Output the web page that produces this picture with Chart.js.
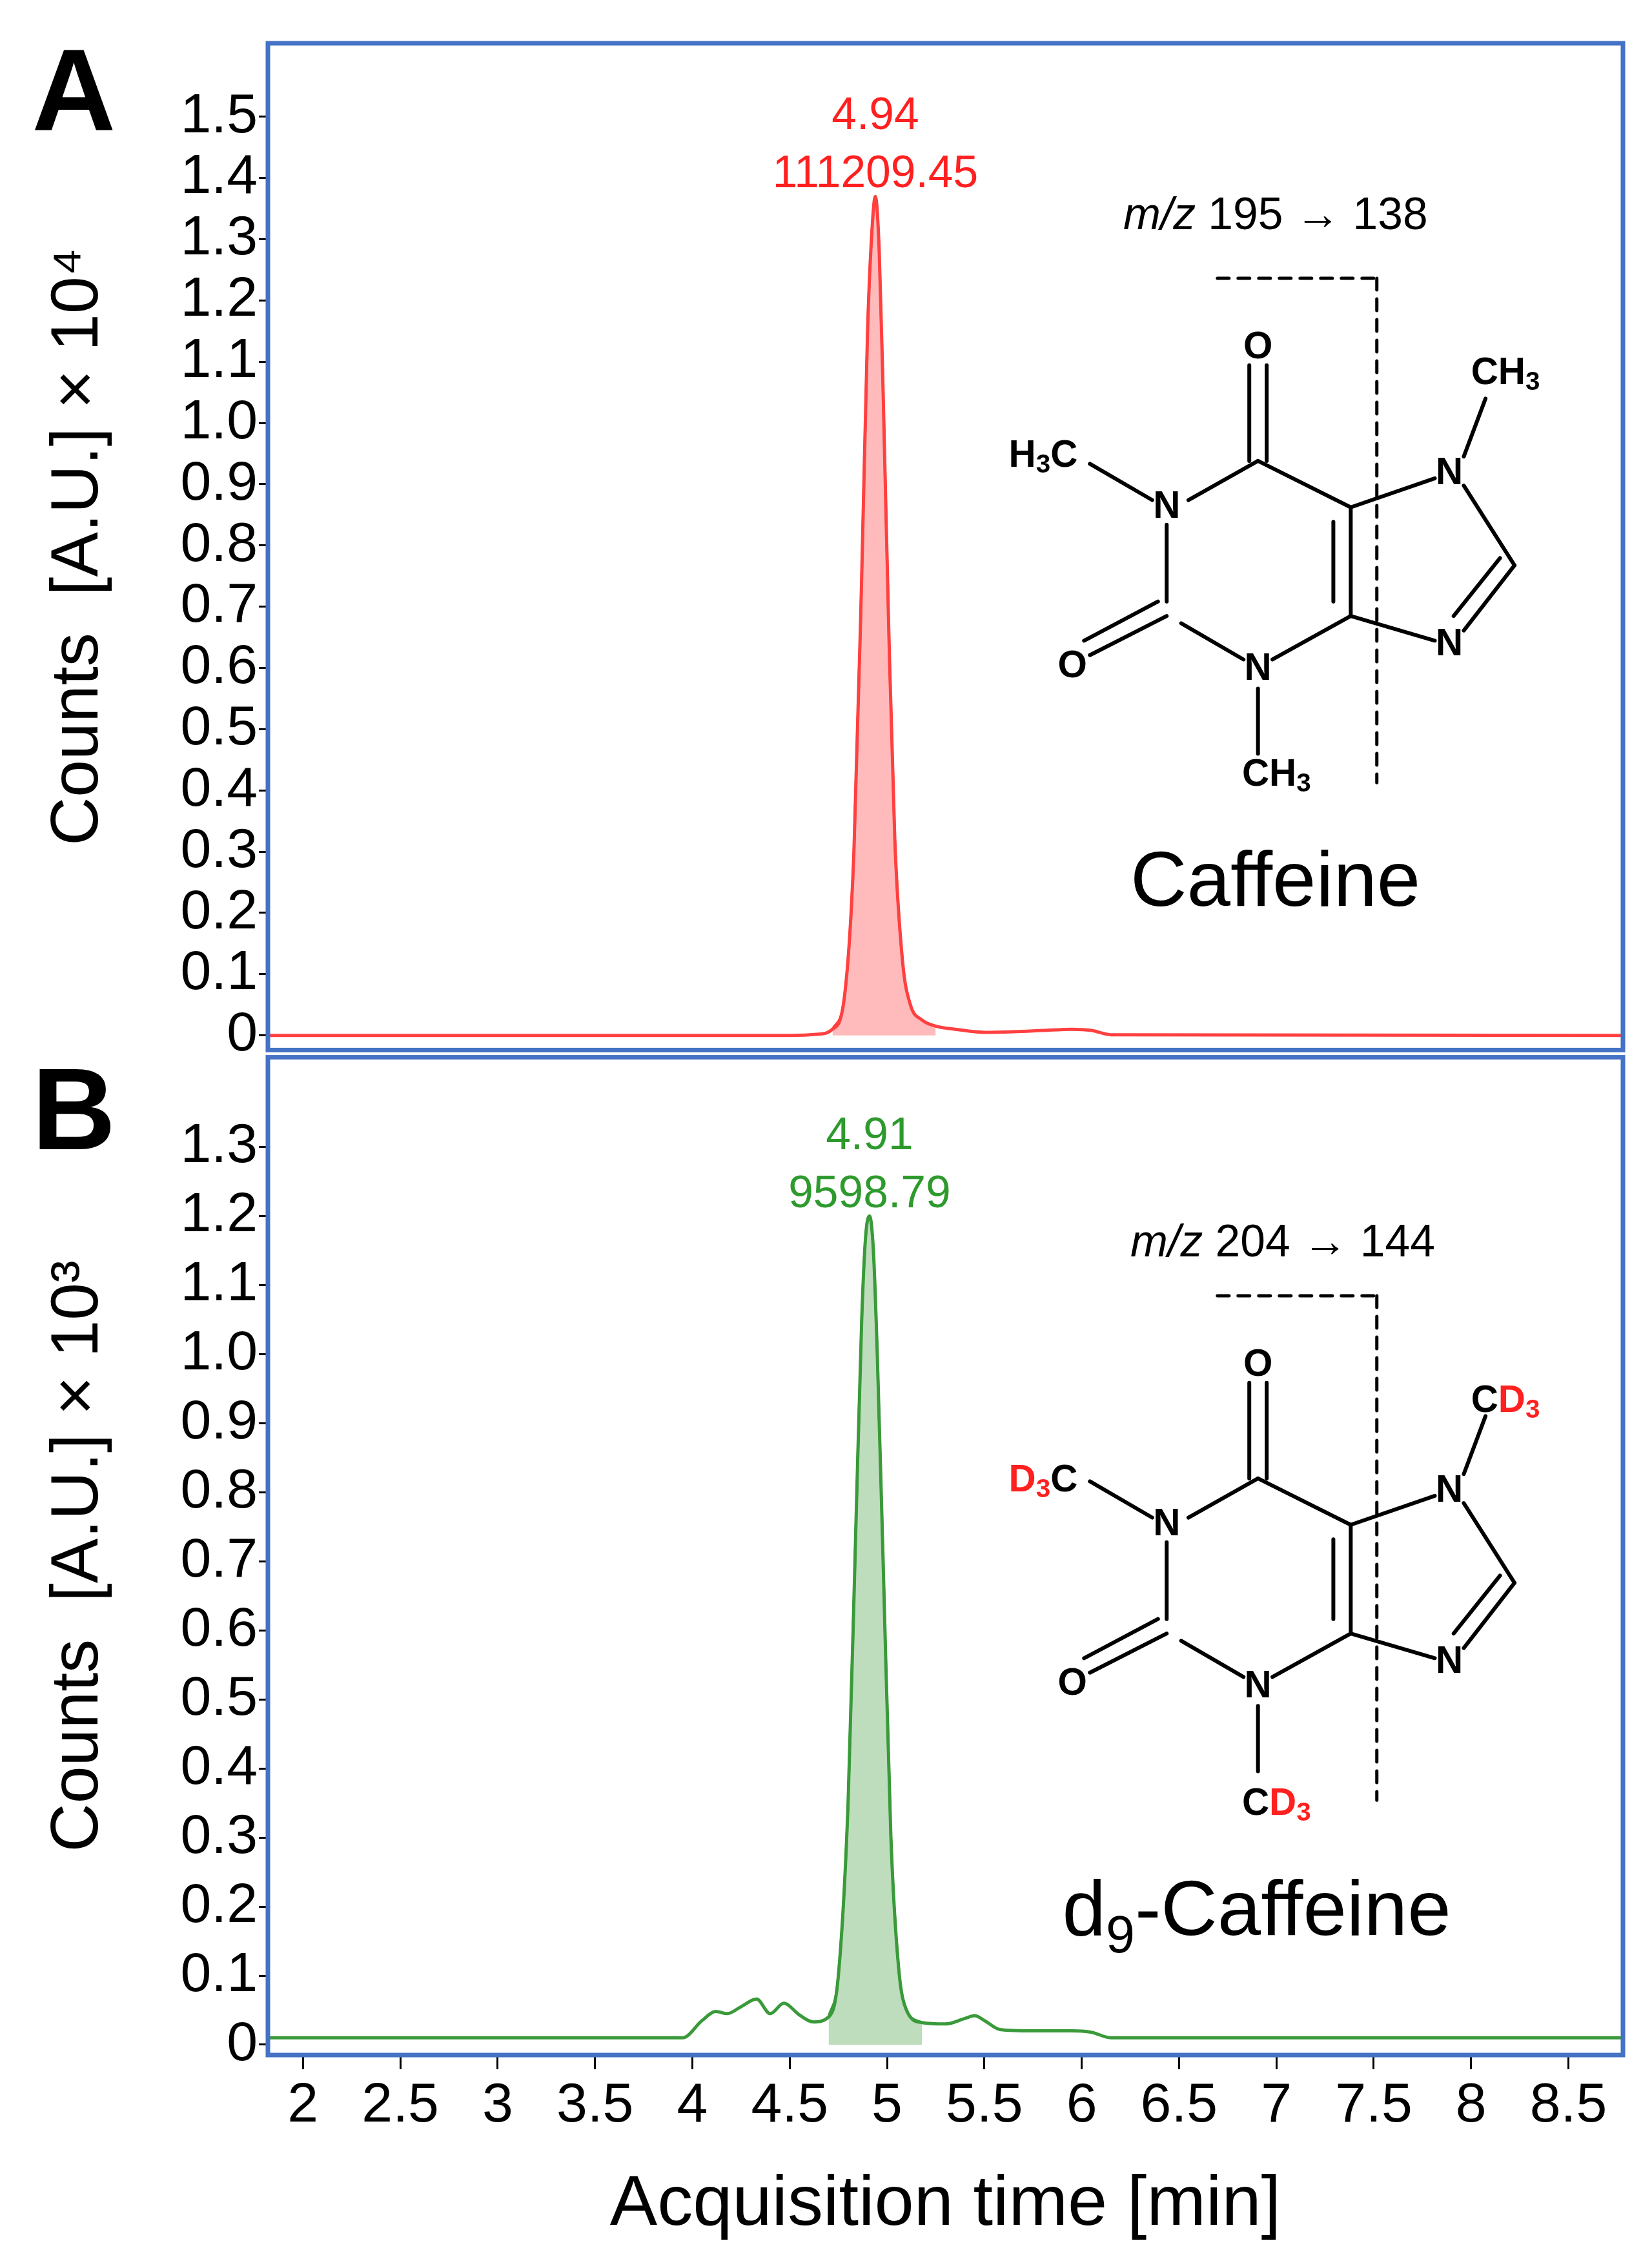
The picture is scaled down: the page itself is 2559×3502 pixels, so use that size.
<!DOCTYPE html>
<html>
<head>
<meta charset="utf-8">
<script src="https://cdn.jsdelivr.net/npm/chart.js@4"></script>
<style>
body { margin:0; background:#fff; }
#wrapA { position:absolute; left:0; top:0; width:2559px; height:1680px; }
#wrapB { position:absolute; left:0; top:1584px; width:2559px; height:1902px; }
</style>
</head>
<body>
<div id="wrapA"><canvas id="chartA"></canvas></div>
<div id="wrapB"><canvas id="chartB"></canvas></div>
<script>
// panel A: caffeine, counts x 10^4
var timeA = [1.8, 4.5, 4.65, 4.72, 4.78, 4.83, 4.87, 4.9, 4.92, 4.94, 4.96, 4.98, 5.01, 5.04, 5.08, 5.12, 5.18, 5.25, 5.35, 5.5, 5.65, 5.8, 5.95, 6.05, 6.15, 8.8];
var countsA = [0, 0, 0.002, 0.01, 0.06, 0.3, 0.75, 1.15, 1.3, 1.37, 1.28, 1.05, 0.65, 0.32, 0.12, 0.05, 0.025, 0.015, 0.01, 0.005, 0.006, 0.008, 0.01, 0.008, 0.001, 0];
var peakA = { time: 4.94, area: "111209.45" };
var ticksA = [0, 0.1, 0.2, 0.3, 0.4, 0.5, 0.6, 0.7, 0.8, 0.9, 1.0, 1.1, 1.2, 1.3, 1.4, 1.5];

// panel B: d9-caffeine, counts x 10^3
var timeB = [1.8, 3.95, 4.05, 4.12, 4.18, 4.25, 4.33, 4.4, 4.47, 4.55, 4.62, 4.7, 4.75, 4.8, 4.84, 4.87, 4.89, 4.91, 4.93, 4.95, 4.98, 5.02, 5.06, 5.1, 5.18, 5.3, 5.4, 5.45, 5.5, 5.58, 5.75, 5.95, 6.05, 6.15, 6.3, 8.8];
var countsB = [0.01, 0.01, 0.035, 0.048, 0.045, 0.055, 0.066, 0.045, 0.06, 0.043, 0.033, 0.04, 0.1, 0.35, 0.75, 1.05, 1.17, 1.2, 1.15, 1.0, 0.7, 0.3, 0.11, 0.05, 0.032, 0.03, 0.038, 0.042, 0.035, 0.022, 0.02, 0.02, 0.018, 0.01, 0.01, 0.01];
var peakB = { time: 4.91, area: "9598.79" };
var ticksB = [0, 0.1, 0.2, 0.3, 0.4, 0.5, 0.6, 0.7, 0.8, 0.9, 1.0, 1.1, 1.2, 1.3];

var xTicks = [2, 2.5, 3, 3.5, 4, 4.5, 5, 5.5, 6, 6.5, 7, 7.5, 8, 8.5];
var fillRangeA = [4.72, 5.25];
var fillRangeB = [4.7, 5.25];

var S = 2.245;
var FONT = "'Liberation Sans', Arial, sans-serif";
var TOP_B = 1584;

function pts(t, v) { return t.map(function(x, i) { return { x: x, y: v[i] }; }); }
function fillPts(t, v, r) { return pts(t, v).filter(function(p) { return p.x >= r[0] && p.x <= r[1]; }); }

function fmtY(v) { return v === 0 ? "0" : v.toFixed(1); }

function drawMol(ctx, oy, deut) {
  // coordinates in reference-scale px, oy = vertical offset in reference px
  function P(x, y) { return [x * S, (y + oy) * S]; }
  ctx.save();
  ctx.strokeStyle = "#000";
  ctx.lineWidth = 6;
  ctx.lineCap = "round";
  function line(a, b, c, d) { var p = P(a, b), q = P(c, d); ctx.beginPath(); ctx.moveTo(p[0], p[1]); ctx.lineTo(q[0], q[1]); ctx.stroke(); }
  // six ring
  line(868, 318, 820, 345); line(805, 362, 805, 415); line(815, 430, 858, 455);
  line(878, 455, 932, 425); line(932, 425, 932, 350); line(932, 350, 868, 318);
  line(920, 415, 920, 360);
  // five ring
  line(932, 350, 990, 330); line(1010, 335, 1045, 390); line(1045, 390, 1010, 435); line(1035, 385, 1003, 425);
  line(990, 442, 932, 425);
  // carbonyls
  line(862, 318, 862, 252); line(874, 318, 874, 252);
  line(805, 425, 752, 452); line(799, 415, 748, 442);
  // methyls
  line(795, 345, 752, 320);
  line(868, 475, 868, 520);
  line(1010, 315, 1025, 275);
  // dashed cleavage line
  ctx.setLineDash([18, 14]);
  ctx.lineWidth = 5;
  line(840, 192, 950, 192); line(950, 192, 950, 540);
  ctx.setLineDash([]);
  // atoms
  ctx.fillStyle = "#000";
  ctx.font = "bold " + (26 * S) + "px " + FONT;
  ctx.textAlign = "center"; ctx.textBaseline = "middle";
  function txt(s, x, y, col) { var p = P(x, y); ctx.fillStyle = col || "#000"; ctx.fillText(s, p[0], p[1]); }
  txt("O", 868, 240); txt("N", 805, 350); txt("N", 868, 462); txt("N", 1000, 327); txt("N", 1000, 445); txt("O", 740, 460);
  var red = "#ff2020";
  ctx.textAlign = "left";
  function group(parts, x, y) {
    var p = P(x, y), cx = p[0];
    parts.forEach(function(g) {
      ctx.font = "bold " + ((g.sub ? 18 : 26) * S) + "px " + FONT;
      ctx.fillStyle = g.c || "#000";
      ctx.fillText(g.s, cx, p[1] + (g.sub ? 6 * S : 0));
      cx += ctx.measureText(g.s).width;
    });
  }
  if (!deut) {
    group([{ s: "H" }, { s: "3", sub: 1 }, { s: "C" }], 696, 315);
    group([{ s: "CH" }, { s: "3", sub: 1 }], 857, 535);
    group([{ s: "CH" }, { s: "3", sub: 1 }], 1015, 258);
  } else {
    group([{ s: "D", c: red }, { s: "3", sub: 1, c: red }, { s: "C" }], 696, 320);
    group([{ s: "C" }, { s: "D", c: red }, { s: "3", sub: 1, c: red }], 857, 543);
    group([{ s: "C" }, { s: "D", c: red }, { s: "3", sub: 1, c: red }], 1015, 265);
  }
  ctx.restore();
}

var deco = {
  id: "deco",
  afterDatasetsDraw: function(chart, args, o) {
    var ctx = chart.ctx, a = chart.chartArea;
    // peak annotation
    var px = chart.scales.x.getPixelForValue(o.peak.time);
    var py = chart.scales.y.getPixelForValue(o.peakH);
    ctx.save();
    ctx.fillStyle = o.color;
    ctx.font = (31 * S) + "px " + FONT;
    ctx.textAlign = "center"; ctx.textBaseline = "alphabetic";
    ctx.fillText(o.peak.area, px, py - 14);
    ctx.fillText(o.peak.time.toFixed(2), px, py - 14 - 40 * S);
    // molecule
    drawMol(ctx, o.molOy, o.deut);
    ctx.fillStyle = "#000";
    ctx.textAlign = "left";
    var lx = o.mz[0] * S, ly = o.mz[1] * S;
    ctx.font = "italic " + (31 * S) + "px " + FONT;
    ctx.fillText("m/z", lx, ly);
    var w = ctx.measureText("m/z ").width;
    ctx.font = (31 * S) + "px " + FONT;
    ctx.fillText(o.mzText, lx + w, ly);
    ctx.font = (54 * S) + "px " + FONT;
    if (o.deut) {
      var nx = 733 * S, ny = o.name[1] * S;
      ctx.fillText("d", nx, ny);
      var dw = ctx.measureText("d").width;
      ctx.font = (36 * S) + "px " + FONT;
      ctx.fillText("9", nx + dw, ny + 12 * S);
      var nw = ctx.measureText("9").width;
      ctx.font = (54 * S) + "px " + FONT;
      ctx.fillText("-Caffeine", nx + dw + nw, ny);
    } else {
      ctx.textAlign = "center";
      ctx.fillText("Caffeine", o.name[0] * S, o.name[1] * S);
    }
    // panel letter
    ctx.font = "bold " + (80 * S) + "px " + FONT;
    ctx.textAlign = "left";
    ctx.fillText(o.letter, 22 * S, o.letterY * S);
    // blue frame
    ctx.strokeStyle = "#4472C4";
    ctx.lineWidth = 7;
    ctx.strokeRect(a.left, a.top, a.right - a.left, a.bottom - a.top);
    ctx.restore();
  }
};

function makeChart(id, t, v, range, color, fillColor, ticks, yMin, yMax, showX, pad, xH, opt) {
  return new Chart(document.getElementById(id), {
    type: "line",
    data: {
      datasets: [
        { data: pts(t, v), borderColor: color, borderWidth: 5, pointRadius: 0, fill: false, cubicInterpolationMode: "monotone" },
        { data: fillPts(t, v, range), borderColor: color, borderWidth: 4, pointRadius: 0, backgroundColor: fillColor, fill: "origin", cubicInterpolationMode: "monotone" }
      ]
    },
    options: {
      responsive: true, maintainAspectRatio: false, animation: false,
      layout: { padding: pad },
      plugins: { legend: { display: false }, tooltip: { enabled: false }, deco: opt },
      scales: {
        x: {
          type: "linear", min: 1.82, max: 8.78, display: showX,
          afterBuildTicks: function(s) { s.ticks = xTicks.map(function(x) { return { value: x }; }); },
          afterFit: function(s) { if (xH) s.height = xH; },
          border: { display: true, color: "#000", width: 3 },
          grid: { drawOnChartArea: false, color: "#000", lineWidth: 3, tickLength: 22 },
          ticks: { color: "#000", font: { family: FONT, size: 86 }, maxRotation: 0, autoSkip: false, padding: 6, callback: function(val) { return String(val); } },
          title: { display: true, text: "Acquisition time [min]", color: "#000", font: { family: FONT, size: 110 }, padding: { top: 0 } }
        },
        y: {
          type: "linear", min: yMin, max: yMax,
          afterBuildTicks: function(s) { s.ticks = ticks.map(function(x) { return { value: x }; }); },
          afterFit: function(s) { s.width = 415; },
          border: { display: true, color: "#000", width: 3 },
          grid: { drawOnChartArea: false, color: "#000", lineWidth: 3, tickLength: 14 },
          ticks: { color: "#000", font: { family: FONT, size: 86 }, autoSkip: false, padding: 2, callback: function(val) { return fmtY(val); } },
          title: { display: true, text: opt.yTitle, color: "#000", font: { family: FONT, size: 104 }, padding: { top: 60, bottom: 0 } }
        }
      }
    },
    plugins: [deco]
  });
}

makeChart("chartA", timeA, countsA, fillRangeA, "#ff4040", "rgba(255,120,120,0.5)", ticksA, -0.024, 1.62, false,
  { top: 67, bottom: 6, right: 45, left: 0 }, 0,
  { peak: peakA, peakH: 1.37, color: "#ff2020", molOy: 0, deut: false, mz: [775, 158], mzText: "195 \u2192 138",
    name: [880, 625], letter: "A", letterY: 90, yTitle: "Counts  [A.U.] \u00d7 10\u2074" });

makeChart("chartB", timeB, countsB, fillRangeB, "#3a9a3a", "rgba(90,170,90,0.4)", ticksB, -0.015, 1.43, true,
  { top: 6, bottom: 0, right: 45, left: 0 }, 303,
  { peak: peakB, peakH: 1.2, color: "#2e9a2e", molOy: 702 - TOP_B / S, deut: true, mz: [780, 867 - TOP_B / S], mzText: "204 \u2192 144",
    name: [875, 1335 - TOP_B / S], letter: "B", letterY: 793 - TOP_B / S, yTitle: "Counts  [A.U.] \u00d7 10\u00b3" });
</script>
</body>
</html>
